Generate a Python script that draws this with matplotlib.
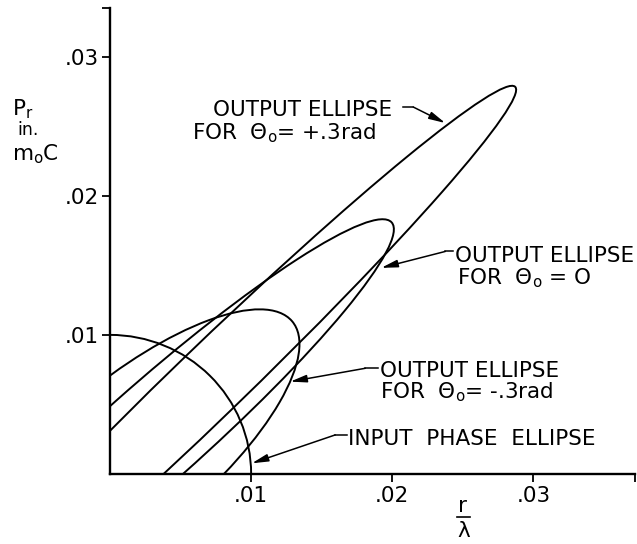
import numpy as np
import matplotlib
matplotlib.use("Agg")
import matplotlib.pyplot as plt
from matplotlib.patches import Ellipse

# phase-space points picked off each output ellipse: (r/lambda, p_r/m0c)
plus_r = [0.0, 0.00375, 0.00548, 0.0115, 0.02376, 0.0281, 0.0286, 0.02695, 0.02506, 0.0195, 0.01525, 0.0087]
plus_p = [0.00304, 0.0, 0.0084, 0.0142, 0.02527, 0.0280, 0.0274, 0.02427, 0.02139, 0.01563, 0.01156, 0.00496]

zero_r = [0.0, 0.0052, 0.00473, 0.0115, 0.0156, 0.0170, 0.0189, 0.01998, 0.01915, 0.0195, 0.01536, 0.00927]
zero_p = [0.00484, 0.0, 0.00892, 0.0142, 0.01683, 0.01791, 0.0182, 0.01732, 0.01482, 0.01563, 0.01024, 0.00405]

minus_r = [0.0, 0.0081, 0.00331, 0.00638, 0.0101, 0.01348, 0.01277, 0.01111, 0.00981]
minus_p = [0.00696, 0.0, 0.00935, 0.01096, 0.01168, 0.00966, 0.00664, 0.00388, 0.00196]

# input phase ellipse (upright, semi-axes in r/lambda and p_r/m0c)
input_a = 0.01
input_b = 0.01

ticks = [0.01, 0.02, 0.03]
tick_labels = [".01", ".02", ".03"]
r_max = 0.0372
p_max = 0.0335

W, H = 637, 544
FS = 15.5


def fit_ellipse(r, p, n_iter=8):
    """Conic through the points (Sampson-weighted least squares)
    -> centre, full axes, angle for an Ellipse patch."""
    x = np.asarray(r) * 100.0
    y = np.asarray(p) * 100.0
    M = np.column_stack([x * x, x * y, y * y, x, y])
    wts = np.ones_like(x)
    for _ in range(n_iter):
        a, b, c, d, e = np.linalg.lstsq(M * wts[:, None], wts, rcond=None)[0]
        gx = 2 * a * x + b * y + d
        gy = b * x + 2 * c * y + e
        wts = 1.0 / np.hypot(gx, gy)
    xc, yc = np.linalg.solve([[2 * a, b], [b, 2 * c]], [-d, -e])
    k = 1.0 - (d * xc + e * yc) / 2.0
    w, v = np.linalg.eigh([[a, b / 2], [b / 2, c]])
    semi = np.sqrt(k / w)
    ang = np.degrees(np.arctan2(v[1, 0], v[0, 0]))
    return (xc / 100, yc / 100), 2 * semi[0] / 100, 2 * semi[1] / 100, ang


fig = plt.figure(figsize=(W / 100, H / 100), dpi=100)
ax = fig.add_axes([110 / W, 70 / H, 525 / W, 466 / H])

ax.add_patch(Ellipse((0, 0), 2 * input_a, 2 * input_b, fill=False,
                     color="black", lw=1.4))
for r, p in [(plus_r, plus_p), (zero_r, zero_p), (minus_r, minus_p)]:
    centre, wd, ht, ang = fit_ellipse(r, p)
    ax.add_patch(Ellipse(centre, wd, ht, angle=ang, fill=False,
                         color="black", lw=1.4))

ax.set_xlim(0, r_max)
ax.set_ylim(0, p_max)
for s in ("top", "right"):
    ax.spines[s].set_visible(False)
for s in ("left", "bottom"):
    ax.spines[s].set_linewidth(1.7)
    ax.spines[s].set_zorder(5)

ax.set_xticks(ticks + [r_max])
ax.set_xticklabels(tick_labels + [""])
ax.set_yticks(ticks + [p_max])
ax.set_yticklabels(tick_labels + [""])
ax.tick_params(direction="out", length=6, width=1.3, labelsize=FS,
               colors="black")
ax.tick_params(axis="y", pad=2)
ax.tick_params(axis="x", pad=3)


def leader(dash_a, dash_b, tip):
    ax.plot([dash_a[0], dash_b[0]], [dash_a[1], dash_b[1]], color="black", lw=1.1)
    ax.annotate("", xy=tip, xytext=dash_b,
                arrowprops=dict(arrowstyle="-|>,head_length=0.7,head_width=0.16",
                                color="black", lw=1.1, shrinkA=0, shrinkB=0,
                                mutation_scale=14))


sub_o = r"$_\mathregular{o}$"
txt = dict(fontsize=FS, ha="left", va="baseline", color="black")

ax.text(0.0073, 0.02571, "OUTPUT ELLIPSE", **txt)
ax.text(0.00582, 0.02403, "FOR  \u0398" + sub_o + "= +.3rad", **txt)
leader((0.02078, 0.02638), (0.02149, 0.02638), (0.02376, 0.02523))

ax.text(0.02447, 0.01527, "OUTPUT ELLIPSE", **txt)
ax.text(0.02461, 0.0136, "FOR  \u0398" + sub_o + " = O", **txt)
leader((0.02433, 0.0160), (0.02376, 0.0160), (0.01922, 0.01482))

ax.text(0.01915, 0.0070, "OUTPUT ELLIPSE", **txt)
ax.text(0.01915, 0.00545, "FOR  \u0398" + sub_o + "= -.3rad", **txt)
leader((0.0190, 0.0076), (0.01809, 0.0076), (0.01277, 0.00664))

ax.text(0.01688, 0.00209, "INPUT  PHASE  ELLIPSE", **txt)
leader((0.01681, 0.00281), (0.01596, 0.00281), (0.01005, 0.00077))

# axis labels: p_r in m0c (vertical stack) and r over lambda
fig.text(12 / W, 1 - 115 / H, r"P$_\mathregular{r}$", fontsize=FS, va="baseline")
fig.text(17 / W, 1 - 135 / H, "in.", fontsize=FS - 3, va="baseline")
fig.text(12 / W, 1 - 160 / H, r"m$_\mathregular{o}$C", fontsize=FS, va="baseline")

fig.text(463 / W, 1 - 512 / H, "r", fontsize=FS, ha="center", va="baseline")
fig.add_artist(plt.Line2D([457 / W, 470 / W], [1 - 517 / H, 1 - 517 / H],
                          color="black", lw=1.2))
fig.text(464 / W, 1 - 537 / H, "\u03bb", fontsize=FS, ha="center", va="baseline")

fig.savefig("out.png", dpi=100, facecolor="white")
